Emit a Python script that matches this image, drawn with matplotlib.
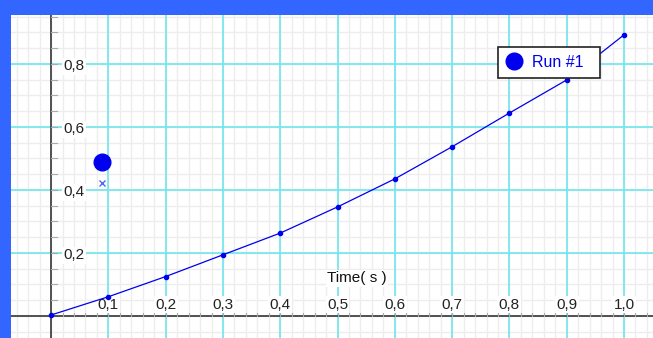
import numpy as np
import matplotlib.pyplot as plt

# Run #1 data (time in s)
time = [0.0, 0.1, 0.2, 0.3, 0.4, 0.5, 0.6, 0.7, 0.8, 0.9, 1.0]
values = [0.003, 0.061, 0.125, 0.194, 0.263, 0.346, 0.435, 0.537, 0.644, 0.749, 0.892]
x_ticks = [0.1, 0.2, 0.3, 0.4, 0.5, 0.6, 0.7, 0.8, 0.9, 1.0]
y_ticks = [0.2, 0.4, 0.6, 0.8]
mark_dot = (0.089, 0.489)
mark_cross = (0.089, 0.422)

blue = '#0000EE'
plt.rcParams['font.family'] = ['Liberation Sans', 'DejaVu Sans']

fig = plt.figure(figsize=(6.53, 3.38), dpi=100, facecolor='#3366FF')
ax = fig.add_axes([11/653, 0, 642/653, 323/338])
ax.set_facecolor('white')
ax.set_xlim(-0.07, 1.0506)
ax.set_ylim(-0.07, 0.955)
ax.set_xticks([])
ax.set_yticks([])
for s in ax.spines.values():
    s.set_visible(False)

# minor grid
for gx in np.arange(-0.06, 1.06, 0.02):
    ax.axvline(gx, color='#EDEDED', lw=1, zorder=0)
for gy in np.arange(-0.05, 0.96, 0.05):
    ax.axhline(gy, color='#EDEDED', lw=1, zorder=0)
# major grid
for gx in x_ticks:
    ax.axvline(gx, color='#6EE6EE', lw=1.2, zorder=1)
for gy in y_ticks:
    ax.axhline(gy, color='#6EE6EE', lw=1.2, zorder=1)

# axes through zero
ax.axhline(0, color='#444444', lw=1.3, zorder=2)
ax.axvline(0, color='#444444', lw=1.3, zorder=2)
for tx in np.arange(0.02, 1.06, 0.02):
    ax.plot([tx, tx], [0, 0.008], color='#AAAAAA', lw=0.8, zorder=2)
for ty in np.arange(0.05, 0.96, 0.05):
    ax.plot([0, 0.01], [ty, ty], color='#AAAAAA', lw=0.8, zorder=2)

lbl_box = dict(facecolor='white', edgecolor='none', pad=1)
for tx in x_ticks:
    ax.text(tx, 0.014, f'{tx:.1f}'.replace('.', ','), ha='center', va='bottom',
            fontsize=11, color='#222222', bbox=lbl_box, zorder=3)
for ty in y_ticks:
    ax.text(0.022, ty - 0.008, f'{ty:.1f}'.replace('.', ','), ha='left', va='center',
            fontsize=11, color='#222222', bbox=lbl_box, zorder=3)
ax.text(0.534, 0.12, 'Time( s )', ha='center', va='center', fontsize=11,
        color='#111111', bbox=lbl_box, zorder=3)

# data
ax.plot(time, values, color=blue, lw=0.9, marker='o', ms=3, zorder=4)
ax.plot(*mark_dot, 'o', color=blue, ms=12, zorder=4)
ax.plot(*mark_cross, 'x', color='#5566EE', ms=5, mew=1, zorder=4)

# legend box
leg = ax.legend([plt.Line2D([], [], color=blue, marker='o', ls='none', ms=12)],
                ['Run #1  '], loc='upper left', bbox_to_anchor=(487/642, 1 - 32/323),
                borderaxespad=0, frameon=True, fancybox=False, framealpha=1,
                fontsize=11.5, handlelength=1, handletextpad=0.6, borderpad=0.5,
                labelcolor=blue)
leg.get_frame().set_edgecolor('#222222')
leg.get_frame().set_facecolor('white')
leg.get_frame().set_linewidth(1.2)
leg.set_zorder(6)

fig.savefig('out.png', dpi=100, facecolor=fig.get_facecolor())
